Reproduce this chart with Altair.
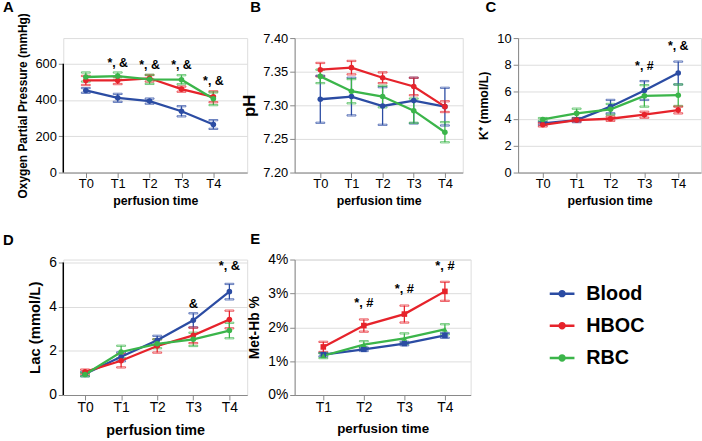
import altair as alt
import pandas as pd

FONT = "Liberation Sans"

groups = ["Blood", "HBOC", "RBC"]
colors = ["#2b4ca3", "#e6232b", "#3bb54a"]
times5 = ["T0", "T1", "T2", "T3", "T4"]
times4 = ["T1", "T2", "T3", "T4"]

# A: oxygen partial pressure (mmHg)
o2_blood = [453, 412, 394, 338, 265]
o2_blood_err = [13, 22, 14, 28, 24]
o2_hboc = [508, 508, 520, 460, 418]
o2_hboc_err = [25, 20, 18, 14, 30]
o2_rbc = [527, 532, 514, 512, 407]
o2_rbc_err = [25, 20, 25, 25, 35]
o2_ann_t = ["T1", "T2", "T3", "T4"]
o2_ann_y = [604, 591, 591, 505]
o2_ann_txt = ["*, &", "*, &", "*, &", "*, &"]

# B: pH
ph_blood = [7.309, 7.313, 7.299, 7.307, 7.298]
ph_blood_err = [0.035, 0.028, 0.028, 0.034, 0.028]
ph_hboc = [7.353, 7.356, 7.341, 7.328, 7.298]
ph_hboc_err = [0.010, 0.010, 0.008, 0.013, 0.008]
ph_rbc = [7.343, 7.321, 7.313, 7.292, 7.260]
ph_rbc_err = [0.010, 0.018, 0.016, 0.018, 0.015]

# C: K+ (mmol/L)
k_blood = [3.65, 3.9, 4.9, 6.1, 7.4]
k_blood_err = [0.1, 0.15, 0.5, 0.7, 0.85]
k_hboc = [3.55, 3.9, 4.0, 4.3, 4.65]
k_hboc_err = [0.12, 0.1, 0.15, 0.22, 0.25]
k_rbc = [3.95, 4.4, 4.7, 5.7, 5.75]
k_rbc_err = [0.1, 0.35, 0.4, 0.8, 0.8]
k_ann_t = ["T3", "T4"]
k_ann_y = [7.93, 9.38]
k_ann_txt = ["*, #", "*, &"]

# D: Lac (mmol/L)
lac_blood = [0.95, 1.73, 2.48, 3.38, 4.68]
lac_blood_err = [0.1, 0.2, 0.2, 0.32, 0.35]
lac_hboc = [1.05, 1.55, 2.22, 2.7, 3.42]
lac_hboc_err = [0.1, 0.3, 0.3, 0.35, 0.4]
lac_rbc = [0.93, 1.95, 2.32, 2.52, 2.92]
lac_rbc_err = [0.08, 0.28, 0.2, 0.3, 0.35]
lac_ann_t = ["T3", "T4"]
lac_ann_y = [4.12, 5.82]
lac_ann_txt = ["&", "*, &"]

# E: Met-Hb (%)
met_blood = [1.19, 1.35, 1.52, 1.76]
met_blood_err = [0.05, 0.05, 0.05, 0.07]
met_hboc = [1.42, 2.05, 2.39, 3.06]
met_hboc_err = [0.15, 0.18, 0.25, 0.28]
met_rbc = [1.16, 1.49, 1.67, 1.94]
met_rbc_err = [0.07, 0.1, 0.15, 0.15]
met_ann_t = ["T2", "T3", "T4"]
met_ann_y = [2.73, 3.12, 3.80]
met_ann_txt = ["*, #", "*, #", "*, #"]


def make_df(times, vals, errs):
    rows = []
    for g, vs, es in zip(groups, vals, errs):
        for t, v, e in zip(times, vs, es):
            rows.append({"group": g, "time": t, "value": v, "lo": v - e, "hi": v + e})
    return pd.DataFrame(rows)


def ann_df(ts, ys, txts):
    return pd.DataFrame({"time": ts, "value": ys, "label": txts})


LEGEND_PATH = ("M-1,-0.1L1,-0.1L1,0.1L-1,0.1Z "
               "M0.3,0A0.3,0.3,0,1,1,-0.3,0A0.3,0.3,0,1,1,0.3,0Z")


def panel(letter, letter_dx, letter_dy, times, df, ann, y_title, y_title_size,
          ydomain, yticks, xpad, xalign, width, height, tick_fs=13,
          x_title_fs=12.5, x_title_pad=4, x_label_pad=0, axis_top=None,
          label_expr=None, legend=None, shapes=None, title_pad=6, ann_fs=12.5):
    xs = alt.Scale(type="point", padding=xpad, align=xalign)
    xaxis = alt.Axis(title="perfusion time", labelAngle=0, labelFontSize=tick_fs,
                     titleFontSize=x_title_fs, labelPadding=x_label_pad,
                     titlePadding=x_title_pad)
    x = alt.X("time:N", sort=times, scale=xs, axis=xaxis)
    ys = alt.Scale(domain=ydomain, nice=False, zero=False)
    yaxis_kw = dict(title=y_title, values=yticks, titleFontSize=y_title_size,
                    labelFontSize=tick_fs, labelPadding=2, titlePadding=title_pad,
                    domain=axis_top is None)
    if label_expr:
        yaxis_kw["labelExpr"] = label_expr
    yaxis = alt.Axis(**yaxis_kw)
    cscale = alt.Scale(domain=groups, range=colors)
    stroke = alt.Stroke("group:N", scale=cscale, legend=None)
    base = alt.Chart(df)
    layers = []
    if axis_top is not None:
        layers.append(
            alt.Chart(pd.DataFrame({"b": [ydomain[0]], "t": [axis_top]}))
            .mark_rule(color="black", strokeWidth=1.5)
            .encode(x=alt.value(0), y=alt.Y("b:Q", scale=ys, axis=yaxis), y2="t:Q")
        )
    layers.append(base.mark_rule(strokeWidth=1.3).encode(
        x=x, y=alt.Y("lo:Q", scale=ys, axis=yaxis), y2="hi:Q", stroke=stroke))
    layers.append(base.mark_tick(orient="horizontal", size=9, thickness=1.3, filled=False).encode(
        x=x, y=alt.Y("lo:Q", scale=ys, axis=yaxis), stroke=stroke))
    layers.append(base.mark_tick(orient="horizontal", size=9, thickness=1.3, filled=False).encode(
        x=x, y=alt.Y("hi:Q", scale=ys, axis=yaxis), stroke=stroke))
    layers.append(base.mark_line(strokeWidth=2.3).encode(
        x=x, y=alt.Y("value:Q", scale=ys, axis=yaxis), stroke=stroke))
    pcol = alt.Color("group:N", scale=cscale, legend=legend)
    penc = dict(x=x, y=alt.Y("value:Q", scale=ys, axis=yaxis), color=pcol)
    if shapes:
        penc["shape"] = alt.Shape("group:N", scale=alt.Scale(domain=groups, range=shapes), legend=None)
    layers.append(base.mark_point(filled=True, size=32, opacity=1).encode(**penc))
    if ann is not None:
        layers.append(alt.Chart(ann).mark_text(
            font=FONT, fontWeight="bold", fontSize=ann_fs, color="black").encode(
            x=x, y=alt.Y("value:Q", scale=ys, axis=yaxis), text="label:N"))
    return alt.layer(*layers).properties(
        width=width, height=height,
        title=alt.TitleParams(text=letter, anchor="start", frame="group", dx=letter_dx,
                              dy=letter_dy, fontSize=15, font=FONT, fontWeight="bold",
                              color="black", offset=0),
    )


legend = alt.Legend(orient="none", legendX=492, legendY=22, title=None,
                    symbolType=LEGEND_PATH, symbolSize=625, symbolStrokeWidth=0,
                    symbolOpacity=1, labelFont=FONT, labelFontSize=20,
                    labelFontWeight="bold", labelColor="black", labelOffset=12,
                    rowPadding=9.5, padding=0)

A = panel("A", -61, 2, times5,
          make_df(times5, [o2_blood, o2_hboc, o2_rbc], [o2_blood_err, o2_hboc_err, o2_rbc_err]),
          ann_df(o2_ann_t, o2_ann_y, o2_ann_txt),
          "Oxygen Partial Pressure (mmHg)", 12, [0, 741.8], [0, 200, 400, 600],
          0.884, 0.40, 186, 136, axis_top=600, title_pad=5)
B = panel("B", -45, -17, times5,
          make_df(times5, [ph_blood, ph_hboc, ph_rbc], [ph_blood_err, ph_hboc_err, ph_rbc_err]),
          None, "pH", 17, [7.2, 7.4], [7.2, 7.25, 7.3, 7.35, 7.4],
          0.698, 0.59, 170, 136, label_expr="format(datum.value, '.2f')", title_pad=4)
C = panel("C", -33, -17, times5,
          make_df(times5, [k_blood, k_hboc, k_rbc], [k_blood_err, k_hboc_err, k_rbc_err]),
          ann_df(k_ann_t, k_ann_y, k_ann_txt),
          "K⁺ (mmol/L)", 12.5, [0, 10], [0, 2, 4, 6, 8, 10],
          0.701, 0.52, 185, 136, title_pad=6)
D = panel("D", -61, -8, times5,
          make_df(times5, [lac_blood, lac_hboc, lac_rbc], [lac_blood_err, lac_hboc_err, lac_rbc_err]),
          ann_df(lac_ann_t, lac_ann_y, lac_ann_txt),
          "Lac (mmol/L)", 15, [0, 6.134], [0, 2, 4, 6],
          0.548, 0.55, 186, 137, tick_fs=14, x_title_fs=14.5, x_title_pad=9, x_label_pad=1,
          axis_top=6, legend=legend, title_pad=6, ann_fs=13)
E = panel("E", -45, -6, times4,
          make_df(times4, [met_blood, met_hboc, met_rbc], [met_blood_err, met_hboc_err, met_rbc_err]),
          ann_df(met_ann_t, met_ann_y, met_ann_txt),
          "Met-Hb %", 14, [0, 4], [0, 1, 2, 3, 4],
          0.671, 0.527, 178, 137, tick_fs=14, x_title_fs=13.5, x_title_pad=7, x_label_pad=1,
          label_expr="datum.value + '%'",
          shapes=["square", "square", "triangle-up"], title_pad=6, ann_fs=13)

chart = alt.concat(A, B, C, D, E, columns=3, spacing={"row": 88, "column": 48}).properties(
    bounds="flush", align="none", padding={"left": 2, "top": -4, "right": 0, "bottom": 0}
).resolve_legend(color="independent").configure_axis(
    domainColor="black", domainWidth=1.5, tickColor="black", tickWidth=1.5, tickSize=3,
    labelFont=FONT, labelFontWeight="bold", labelColor="black",
    titleFont=FONT, titleFontWeight="bold", titleColor="black", grid=False,
).configure_view(stroke=None).configure(background="white")

chart.save("out.html", embed_options={"renderer": "svg", "actions": False})
